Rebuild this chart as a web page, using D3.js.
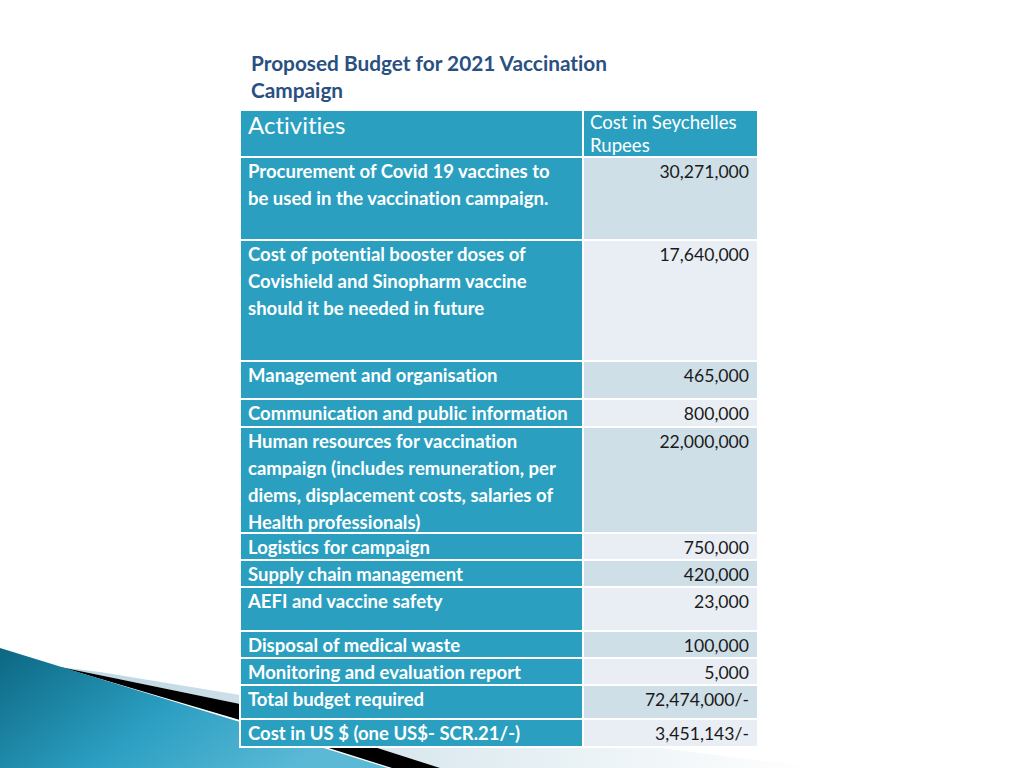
<!DOCTYPE html>
<html>
<head>
<meta charset="utf-8">
<script src="https://cdn.jsdelivr.net/npm/d3@7"></script>
<style>
  body { margin: 0; background: #fff; }
  svg { display: block; }
  text { font-variant-ligatures: none; font-feature-settings: "liga" 0; }
</style>
</head>
<body>
<div id="slide"></div>
<script>
// table content
const titleLines = ["Proposed Budget for 2021 Vaccination", "Campaign"]
const headerLeft = "Activities"
const headerRight = ["Cost in Seychelles", "Rupees"]
const activities = [
    ["Procurement of Covid 19 vaccines  to", "be used in the vaccination campaign."],
    ["Cost of potential booster doses of", "Covishield and Sinopharm vaccine", "should it be needed in future"],
    ["Management and organisation"],
    ["Communication and public information"],
    ["Human resources for vaccination", "campaign (includes remuneration, per", "diems, displacement costs, salaries of", "Health professionals)"],
    ["Logistics for campaign"],
    ["Supply chain management"],
    ["AEFI and vaccine safety"],
    ["Disposal of medical waste"],
    ["Monitoring and evaluation report"],
    ["Total budget required"],
    ["Cost in US $ (one US$- SCR.21/-)"]
]
const costs = ["30,271,000", "17,640,000", "465,000", "800,000", "22,000,000", "750,000",
    "420,000", "23,000", "100,000", "5,000", "72,474,000/-", "3,451,143/-"]

// layout (row heights incl. the white gap)
const rowHeights = [83, 121, 38, 28, 106, 27, 27, 44, 27, 27, 34, 28]
const W = 1024, H = 768
const tableTop = 111, headerH = 47
const xLeft = 241, xSplit = 582, xRight = 757
const gap = 2
const font = "Lato, 'Open Sans', sans-serif"

const svg = d3.select("#slide").append("svg")
    .attr("width", W).attr("height", H)

// bottom-left decoration
let defs = svg.append("defs")
let grad = defs.append("linearGradient").attr("id", "teal")
    .attr("x1", "0").attr("y1", "0").attr("x2", "1").attr("y2", "0.4")
grad.append("stop").attr("offset", "0").attr("stop-color", "#0c6782")
grad.append("stop").attr("offset", "0.55").attr("stop-color", "#2c9fc2")
grad.append("stop").attr("offset", "1").attr("stop-color", "#5bb9d6")
let grey = defs.append("linearGradient").attr("id", "grey")
    .attr("x1", "0").attr("y1", "0").attr("x2", "1").attr("y2", "0")
grey.append("stop").attr("offset", "0").attr("stop-color", "#bcd6e1")
grey.append("stop").attr("offset", "1").attr("stop-color", "#ffffff")

let deco = svg.append("g")
deco.append("path").attr("fill", "url(#grey)")
    .attr("d", "M100,672 L240,695 L820,768 L440,768 L240,704 L60,667 Z")
deco.append("path").attr("fill", "#000")
    .attr("d", "M60,667 L240,704 L440,768 L392,768 L240,720 Z")
deco.append("path").attr("fill", "url(#teal)")
    .attr("d", "M0,648 L240,722 L388,768 L0,768 Z")

// title
svg.append("g").selectAll("text").data(titleLines).join("text")
    .attr("x", 251).attr("y", (d, i) => 71 + i * 27)
    .attr("font-family", font).attr("font-weight", "bold")
    .attr("font-size", 20.8).attr("fill", "#2a5082")
    .text(d => d)

// row positions
let tops = []
let acc = tableTop + headerH
rowHeights.forEach(h => { tops.push(acc); acc += h })

let rows = activities.map((a, i) => ({lines: a, cost: costs[i], y: tops[i], h: rowHeights[i] - gap, i: i}))

let table = svg.append("g")

// white frame behind the cells
table.append("rect").attr("x", xLeft - 2).attr("y", tableTop - 2)
    .attr("width", xRight - xLeft + 4).attr("height", acc - tableTop + 2).attr("fill", "#fff")

// header
table.append("rect").attr("x", xLeft).attr("y", tableTop)
    .attr("width", xSplit - xLeft).attr("height", headerH - gap).attr("fill", "#2b9fbf")
table.append("rect").attr("x", xSplit + gap).attr("y", tableTop)
    .attr("width", xRight - xSplit - gap).attr("height", headerH - gap).attr("fill", "#2b9fbf")
table.append("text").attr("x", xLeft + 7).attr("y", tableTop + 23)
    .attr("font-family", font).attr("font-size", 24).attr("fill", "#fff")
    .text(headerLeft)
table.selectAll(".hr").data(headerRight).join("text").attr("class", "hr")
    .attr("x", xSplit + 8).attr("y", (d, i) => tableTop + 18 + i * 23)
    .attr("font-family", font).attr("font-size", 18.6).attr("fill", "#fff")
    .text(d => d)

// body rows
let g = table.selectAll(".row").data(rows).join("g").attr("class", "row")
    .attr("transform", d => "translate(0," + d.y + ")")

g.append("rect").attr("x", xLeft).attr("width", xSplit - xLeft)
    .attr("height", d => d.h).attr("fill", "#2b9fbf")
g.append("rect").attr("x", xSplit + gap).attr("width", xRight - xSplit - gap)
    .attr("height", d => d.h).attr("fill", d => d.i % 2 == 0 ? "#cfdfe8" : "#e8eef4")

g.selectAll(".act").data(d => d.lines).join("text").attr("class", "act")
    .attr("x", xLeft + 7).attr("y", (d, i) => 20 + i * 27)
    .attr("font-family", font).attr("font-weight", "bold")
    .attr("font-size", 18.5).attr("fill", "#fff")
    .text(d => d)

g.append("text").attr("x", xRight - 8).attr("y", 20)
    .attr("text-anchor", "end")
    .attr("font-family", font).attr("font-size", 17.6).attr("fill", "#1a1a1a")
    .text(d => d.cost)
</script>
</body>
</html>
